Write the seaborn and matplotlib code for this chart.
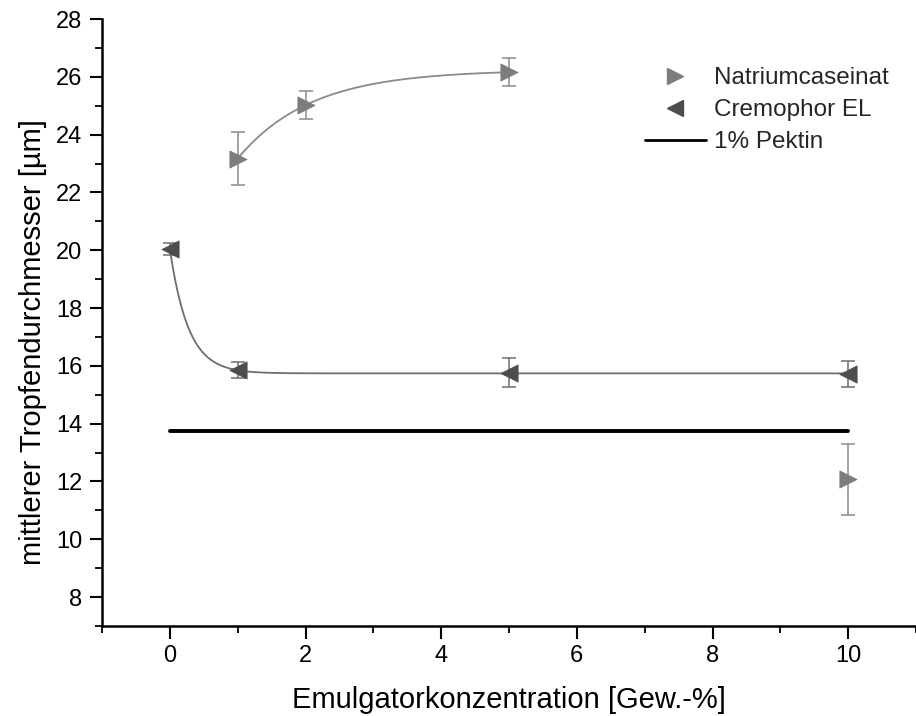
import numpy as np
import pandas as pd
import matplotlib
matplotlib.use("Agg")
import matplotlib.pyplot as plt
from matplotlib.ticker import MultipleLocator
from matplotlib.lines import Line2D
import seaborn as sns

# Measured droplet diameters (mean and standard deviation)
natrium_x = [1, 2, 5, 10]
natrium_y = [23.17, 25.02, 26.16, 12.08]
natrium_err = [0.92, 0.48, 0.48, 1.23]

cremophor_x = [0, 1, 5, 10]
cremophor_y = [20.05, 15.85, 15.76, 15.72]
cremophor_err = [0.20, 0.27, 0.50, 0.46]

# Reference: 1 % pectin without emulsifier
pektin_y = 13.75
pektin_x = [0, 10]

x_label = "Emulgatorkonzentration [Gew.-%]"
y_label = "mittlerer Tropfendurchmesser [µm]"
legend_labels = ["Natriumcaseinat", "Cremophor EL", "1% Pektin"]


def fit_exponential(x, y):
    """Least-squares fit of y = a + b*exp(-x/t) (grid over t, linear in a, b)."""
    x = np.asarray(x, float)
    y = np.asarray(y, float)
    best = None
    for t in np.linspace(0.05, 5.0, 4000):
        A = np.column_stack([np.ones_like(x), np.exp(-x / t)])
        coef, *_ = np.linalg.lstsq(A, y, rcond=None)
        res = np.sum((A @ coef - y) ** 2)
        if best is None or res < best[0]:
            best = (res, coef[0], coef[1], t)
    _, a, b, t = best
    return lambda xx: a + b * np.exp(-np.asarray(xx) / t)


sns.set_theme(style="ticks")
plt.rcParams["font.family"] = ["Liberation Sans", "DejaVu Sans"]

fig = plt.figure(figsize=(9.16, 7.16), dpi=100)
ax = fig.add_axes([102 / 916, 90 / 716, 814 / 916, 607 / 716])

natrium_col = "#7d7d7d"
cremophor_col = "#4d4d4d"

# Fitted curves
nat_fit = fit_exponential(natrium_x[:3], natrium_y[:3])
xs_nat = np.linspace(natrium_x[0], natrium_x[2], 200)
sns.lineplot(x=xs_nat, y=nat_fit(xs_nat), ax=ax, color="#8a8a8a", lw=1.3,
             legend=False)

cre_fit = fit_exponential(cremophor_x, cremophor_y)
xs_cre = np.linspace(cremophor_x[0], cremophor_x[-1], 400)
sns.lineplot(x=xs_cre, y=cre_fit(xs_cre), ax=ax, color="#6e6e6e", lw=1.3,
             legend=False)

# Pectin reference line
sns.lineplot(x=pektin_x, y=[pektin_y, pektin_y], ax=ax, color="black", lw=2.8,
             legend=False)

# Error bars
ax.errorbar(natrium_x, natrium_y, yerr=natrium_err, fmt="none",
            ecolor="#8a8a8a", elinewidth=1.1, capsize=5, capthick=1.1, zorder=3)
ax.errorbar(cremophor_x, cremophor_y, yerr=cremophor_err, fmt="none",
            ecolor="#6e6e6e", elinewidth=1.1, capsize=5, capthick=1.1, zorder=3)

# Data points
df_nat = pd.DataFrame({"x": natrium_x, "y": natrium_y})
df_cre = pd.DataFrame({"x": cremophor_x, "y": cremophor_y})
sns.scatterplot(data=df_nat, x="x", y="y", ax=ax, marker=">", s=155,
                color=natrium_col, edgecolor=natrium_col, linewidth=0.5,
                zorder=4, legend=False)
sns.scatterplot(data=df_cre, x="x", y="y", ax=ax, marker="<", s=155,
                color=cremophor_col, edgecolor=cremophor_col, linewidth=0.5,
                zorder=4, legend=False)

# Axes styling
ax.set_xlim(-1, 11)
ax.set_ylim(7, 28)
ax.xaxis.set_major_locator(MultipleLocator(2))
ax.xaxis.set_minor_locator(MultipleLocator(1))
ax.yaxis.set_major_locator(MultipleLocator(2))
ax.yaxis.set_minor_locator(MultipleLocator(1))
ax.set_yticks(np.arange(8, 29, 2))
ax.set_xticks(np.arange(0, 11, 2))
for side in ("top", "right"):
    ax.spines[side].set_visible(False)
for side in ("left", "bottom"):
    ax.spines[side].set_linewidth(1.8)
    ax.spines[side].set_color("black")
ax.tick_params(which="major", direction="out", length=9, width=1.5,
               labelsize=17, colors="black", pad=5)
ax.tick_params(which="minor", direction="out", length=5, width=1.3,
               colors="black")
ax.set_xlabel(x_label, fontsize=21, labelpad=13, color="black")
ax.set_ylabel(y_label, fontsize=21, color="black")
ax.yaxis.set_label_coords(-0.068, 0.468)

# Legend
handles = [
    Line2D([], [], ls="none", marker=">", ms=11, color=natrium_col,
           markeredgecolor=natrium_col),
    Line2D([], [], ls="none", marker="<", ms=11, color=cremophor_col,
           markeredgecolor=cremophor_col),
    Line2D([], [], color="black", lw=2.0),
]
fig.legend(handles, legend_labels, loc="upper left",
           bbox_to_anchor=(645 / 916, 1 - 67 / 716), frameon=False,
           fontsize=17.5, handlelength=2.5, handletextpad=0.35,
           labelspacing=0.42, borderpad=0, borderaxespad=0)

fig.savefig("out.png", dpi=100)
